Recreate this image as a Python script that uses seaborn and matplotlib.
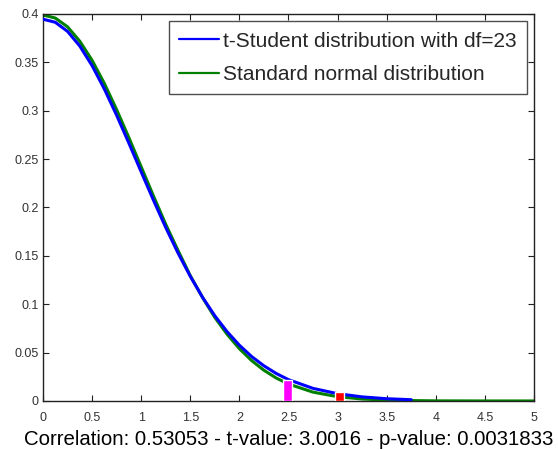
"""
plot.py
-------
t-Student (df=23) density vs standard normal density, with the observed
t-value and critical value marked as small bars.
"""

import matplotlib
matplotlib.use("Agg")
import matplotlib.pyplot as plt
import pandas as pd
import seaborn as sns

# ---------------------------------------------------------------------------
# Data
# ---------------------------------------------------------------------------

x_t = [0, 0.125, 0.25, 0.375, 0.5, 0.625, 0.75, 0.875, 1.0, 1.125, 1.25, 1.375,
       1.5, 1.625, 1.75, 1.875, 2.0, 2.125, 2.25, 2.375, 2.5, 2.75, 3.0, 3.25,
       3.5, 3.75]
pdf_t = [0.3946, 0.3914, 0.3820, 0.3668, 0.3466, 0.3224, 0.2953, 0.2664, 0.2368,
         0.2075, 0.1793, 0.1529, 0.1288, 0.1071, 0.0880, 0.0716, 0.0576, 0.0459,
         0.0363, 0.0284, 0.0220, 0.0130, 0.0075, 0.0042, 0.0023, 0.0013]

x_norm = [0, 0.125, 0.25, 0.375, 0.5, 0.625, 0.75, 0.875, 1.0, 1.125, 1.25, 1.375,
          1.5, 1.625, 1.75, 1.875, 2.0, 2.125, 2.25, 2.375, 2.5, 2.75, 3.0, 3.25,
          3.5, 3.75, 4.0, 4.5, 5.0]
pdf_norm = [0.3989, 0.3958, 0.3867, 0.3718, 0.3521, 0.3282, 0.3011, 0.2721, 0.2420,
            0.2119, 0.1826, 0.1556, 0.1295, 0.1069, 0.0863, 0.0689, 0.0540, 0.0417,
            0.0317, 0.0237, 0.0175, 0.0091, 0.0044, 0.0020, 0.0009, 0.0004, 0.0001,
            0.0, 0.0]

marker_x = [2.49, 3.02]
marker_h = [0.022, 0.009]
marker_colors = ["#ff00ff", "#ff0000"]

label_t = "t-Student distribution with df=23"
label_norm = "Standard normal distribution"
caption = "Correlation: 0.53053 - t-value: 3.0016 - p-value: 0.0031833"

# ---------------------------------------------------------------------------
# Plot
# ---------------------------------------------------------------------------

sns.set_style("ticks")
plt.rcParams["font.family"] = ["Liberation Sans", "DejaVu Sans"]

fig = plt.figure(figsize=(5.58, 4.5), dpi=100)
ax = fig.add_axes([0.077, 0.109, 0.880, 0.860])

df_t = pd.DataFrame({"x": x_t, "y": pdf_t})
df_n = pd.DataFrame({"x": x_norm, "y": pdf_norm})
sns.lineplot(data=df_t, x="x", y="y", ax=ax, color="#0000ff", lw=2.2, label=label_t,
             zorder=3)
sns.lineplot(data=df_n, x="x", y="y", ax=ax, color="#008000", lw=2.2, label=label_norm,
             zorder=2)

ax.bar(marker_x, marker_h, width=0.1, color=marker_colors, zorder=4)

ax.set_xlim(0, 5)
ax.set_ylim(0, 0.4)
ax.set_xticks([0, 0.5, 1, 1.5, 2, 2.5, 3, 3.5, 4, 4.5, 5])
ax.set_xticklabels(["0", "0.5", "1", "1.5", "2", "2.5", "3", "3.5", "4", "4.5", "5"])
ax.set_yticks([0, 0.05, 0.1, 0.15, 0.2, 0.25, 0.3, 0.35, 0.4])
ax.set_yticklabels(["0", "0.05", "0.1", "0.15", "0.2", "0.25", "0.3", "0.35", "0.4"])
ax.tick_params(direction="in", top=True, right=True, labelsize=9, length=4,
               colors="#222222", labelcolor="#333333")
ax.tick_params(axis="x", pad=8)
ax.tick_params(axis="y", pad=3)
for s in ax.spines.values():
    s.set_visible(True)
    s.set_color("#222222")
    s.set_linewidth(1)

ax.set_xlabel(caption, fontsize=14.7, labelpad=4.5, color="black")
ax.set_ylabel("")

leg = ax.legend(loc="upper right", fontsize=15, frameon=True, fancybox=False,
                edgecolor="#222222", handlelength=1.9, handletextpad=0.2,
                borderpad=0.5, labelspacing=0.68, borderaxespad=0.35)
leg.get_frame().set_linewidth(1)
for h in leg.get_lines():
    h.set_linewidth(1.6)

fig.savefig("out.png", dpi=100)
